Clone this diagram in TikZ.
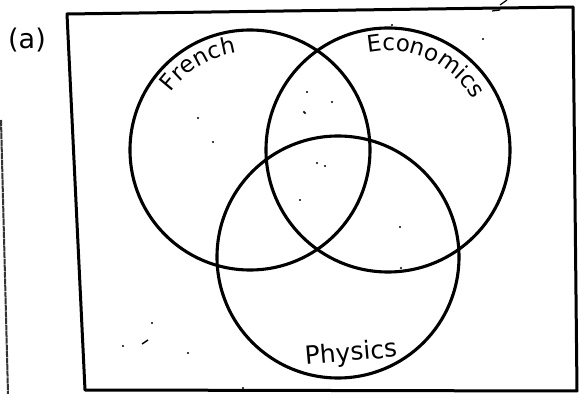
\documentclass[tikz,border=0pt]{standalone}
\usepackage{fontspec}
\setmainfont{DejaVu Sans}
\usetikzlibrary{decorations.text}
\tikzset{
  setline/.style={line width=3.1pt, black},
  framebox/.style={line width=3pt, black, line join=round},
  handlabel/.style={font=\fontsize{24}{24}\selectfont, inner sep=0pt},
  speck/.style={fill=black, inner sep=0pt, minimum size=2.4pt, circle}
}
\begin{document}
\begin{tikzpicture}[x=1pt,y=1pt]
  \useasboundingbox (0,0) rectangle (579,394);
  % frame
  \coordinate (tl) at (67,380);
  \coordinate (tr) at (573,387);
  \coordinate (br) at (577,3);
  \coordinate (bl) at (85,4);
  \draw[framebox] (tl) -- (tr) -- (br) -- (bl) -- cycle;
  % scan edge
  \coordinate (sa) at (1,274);
  \coordinate (sb) at (8,0);
  \draw[line width=2pt, black!80, dash pattern=on 6pt off 0.6pt] (sa) -- (sb);
  % circles
  \node[setline, draw, circle, minimum size=240pt, inner sep=0pt] (french) at (250,244) {};
  \node[setline, draw, circle, minimum size=244pt, inner sep=0pt] (econ) at (388,244) {};
  \node[setline, draw, circle, minimum size=242pt, inner sep=0pt] (phys) at (338,137) {};
  % labels
  \node[handlabel, font=\fontsize{27}{27}\selectfont] (lbla) at (27,354) {(a)};
  \path[decorate, decoration={text along path, text align=center,
      text={|\fontsize{23}{23}\selectfont|French}}]
    (250,244) ++(153:98) arc[start angle=153, end angle=89, radius=98];
  \path[decorate, decoration={text along path, text align=center,
      text={|\fontsize{23}{23}\selectfont|Economics}}]
    (388,244) ++(112:99) arc[start angle=112, end angle=20, radius=99];
  \node[handlabel, font=\fontsize{25}{25}\selectfont, rotate=5] (lblp) at (351,40) {Physics};
  % stray marks
  \node[speck] (d1) at (198,276) {};
  \node[speck] (d2) at (213,252) {};
  \node[speck] (d3) at (304,282) {};
  \node[speck] (d4) at (332,292) {};
  \node[speck] (d5) at (317,231) {};
  \node[speck] (d6) at (325,228) {};
  \node[speck] (d7) at (300,194) {};
  \node[speck] (d8) at (400,167) {};
  \node[speck] (d9) at (401,126) {};
  \node[speck] (d10) at (152,71) {};
  \node[speck] (d11) at (123,48) {};
  \node[speck] (d12) at (188,41) {};
  \node[speck] (d13) at (392,369) {};
  \node[speck] (d14) at (483,355) {};
  \node[speck] (d15) at (307,302) {};
  \node[speck] (d16) at (305,281) {};
  \node[speck] (d17) at (243,6) {};
  \coordinate (m1) at (142,50);
  \coordinate (m2) at (148,54);
  \draw[line width=1.5pt] (m1) -- (m2);
  \coordinate (m3) at (500,389);
  \coordinate (m4) at (507,394);
  \draw[line width=1.2pt] (m3) -- (m4);
  \coordinate (m5) at (492,383);
  \coordinate (m6) at (500,384);
  \draw[line width=1.2pt] (m5) -- (m6);
\end{tikzpicture}
\end{document}
